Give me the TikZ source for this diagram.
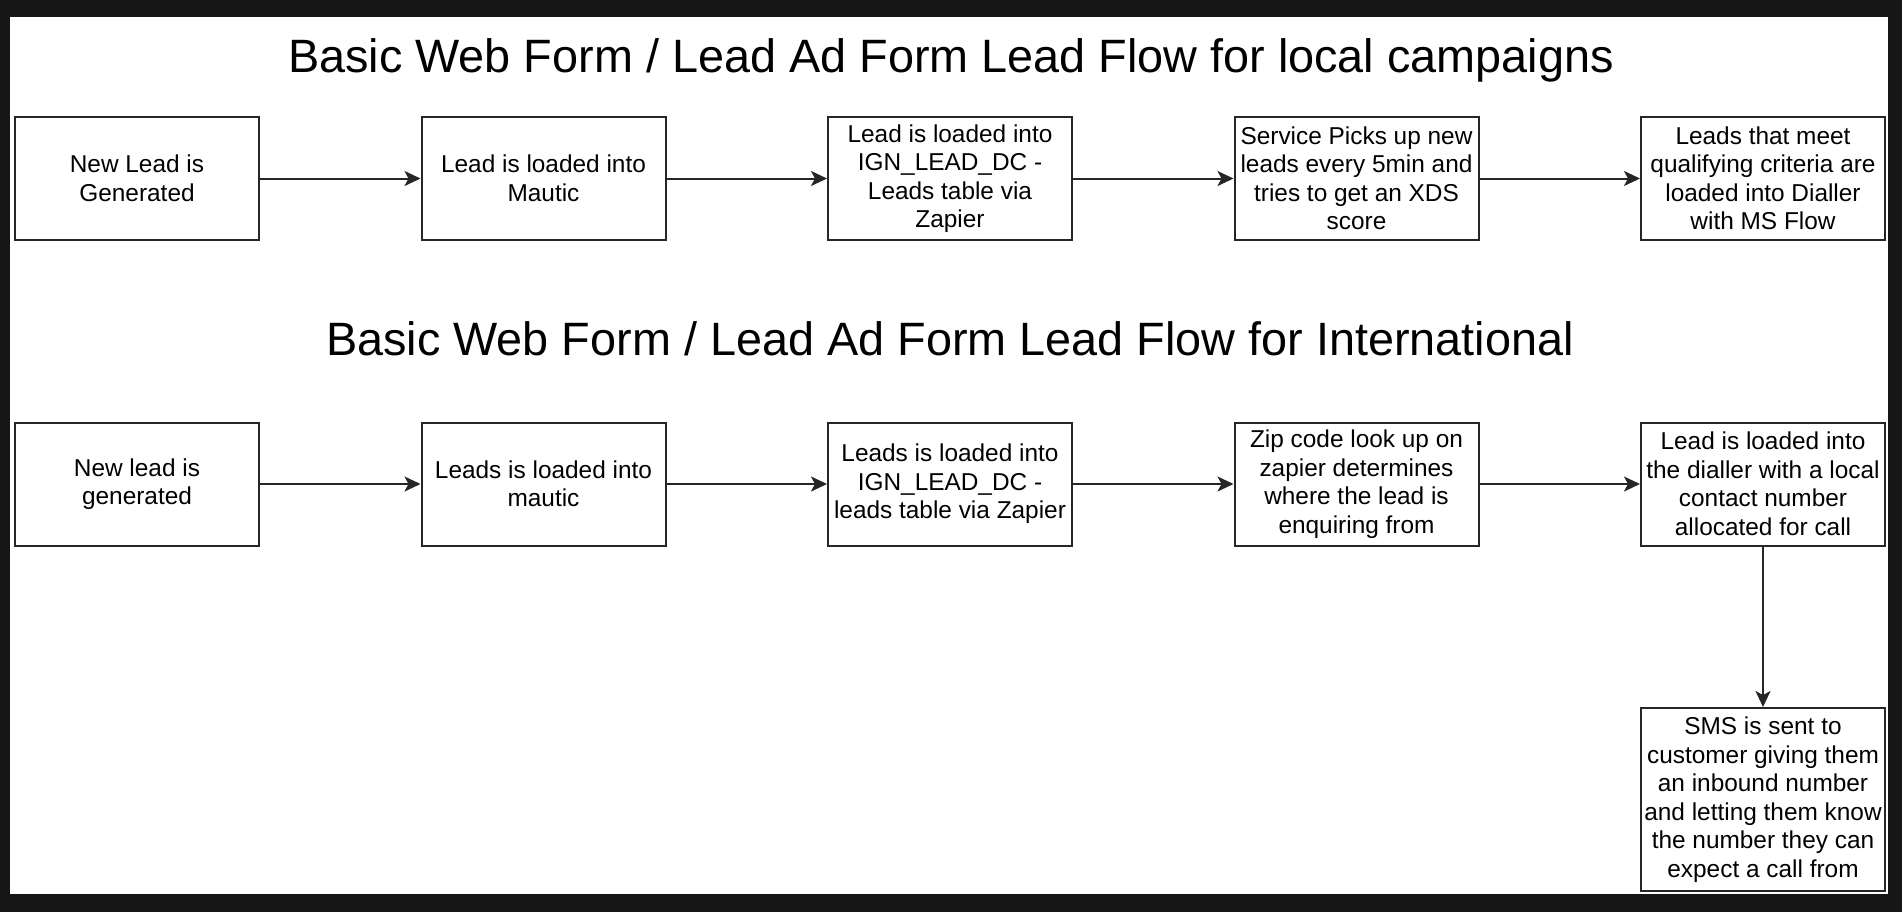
\documentclass[tikz,border=0pt]{standalone}
\usepackage{fontspec}
\setmainfont{Liberation Sans}
\usepackage{xcolor}
\usetikzlibrary{positioning,arrows.meta}
\definecolor{frame}{RGB}{22,22,22}

\begin{document}
\begin{tikzpicture}[x=0.5pt,y=-0.5pt,
  box/.style={draw=black!85,line width=1pt,fill=white,minimum width=122pt,minimum height=61.5pt,
    inner sep=0pt,align=center,font=\fontsize{12.2}{14.25}\selectfont},
  ttl/.style={anchor=base,inner sep=0pt,font=\fontsize{23.4}{27}\selectfont},
  flow/.style={draw=black!85,line width=1pt,-{Stealth[length=8pt,width=7.5pt,inset=2pt]}}]
  \def\dx{406.5}
  \fill[frame] (0,0) rectangle (1902,912);
  \fill[white] (10,17) rectangle (1888,894);
  \useasboundingbox (0,0) rectangle (1902,912);
  \node[ttl] (t1) at (951,72) {Basic Web Form / Lead Ad Form Lead Flow for local campaigns};
  \node[ttl] (t2) at (950,355) {Basic Web Form / Lead Ad Form Lead Flow for International};
  % local campaigns
  \node[box] (a1) at (137,178.5) {New Lead is\\Generated};
  \node[box] (a2) at ({137+\dx},178.5) {Lead is loaded into\\Mautic};
  \node[box] (a3) at ({137+2*\dx},178.5) {Lead is loaded into\\IGN\_LEAD\_DC -\\Leads table via\\Zapier};
  \node[box] (a4) at ({137+3*\dx},178.5) {Service Picks up new\\leads every 5min and\\tries to get an XDS\\score};
  \node[box] (a5) at ({137+4*\dx},178.5) {Leads that meet\\qualifying criteria are\\loaded into Dialler\\with MS Flow};
  % international
  \node[box] (b1) at (137,484) {New lead is\\generated};
  \node[box] (b2) at ({137+\dx},484) {Leads is loaded into\\mautic};
  \node[box] (b3) at ({137+2*\dx},484) {Leads is loaded into\\IGN\_LEAD\_DC -\\leads table via Zapier};
  \node[box] (b4) at ({137+3*\dx},484) {Zip code look up on\\zapier determines\\where the lead is\\enquiring from};
  \node[box] (b5) at ({137+4*\dx},484) {Lead is loaded into\\the dialler with a local\\contact number\\allocated for call};
  \node[box,minimum height=91.5pt] (sms) at ({137+4*\dx},799.5) {SMS is sent to\\customer giving them\\an inbound number\\and letting them know\\the number they can\\expect a call from};
  \begin{scope}[every path/.style={flow}]
    \draw (a1)--(a2); \draw (a2)--(a3); \draw (a3)--(a4); \draw (a4)--(a5);
    \draw (b1)--(b2); \draw (b2)--(b3); \draw (b3)--(b4); \draw (b4)--(b5);
    \draw (b5)--(sms);
  \end{scope}
\end{tikzpicture}
\end{document}
